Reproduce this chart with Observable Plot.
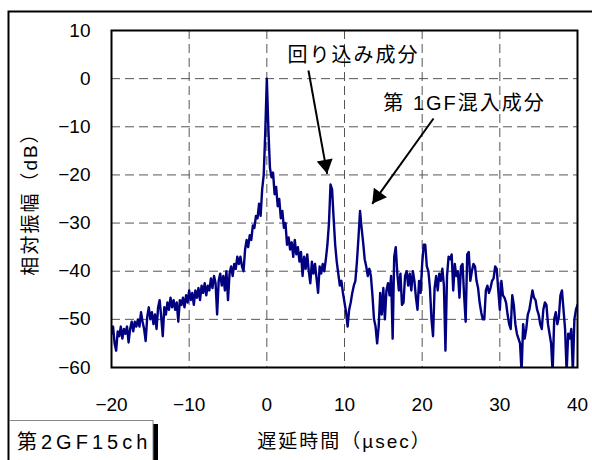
<!DOCTYPE html>
<html><head><meta charset="utf-8">
<script src="https://cdn.jsdelivr.net/npm/d3@7"></script>
<script src="https://cdn.jsdelivr.net/npm/@observablehq/plot@0.6"></script>
<style>
html,body{margin:0;padding:0;background:#fff;}
g[aria-description="annot"] text{letter-spacing:2px;}
g[aria-description="axislabel"] text{letter-spacing:2px;}
</style></head><body><div id="chart"></div>
<script>
// sampling of the delay axis (µsec)
const delayStart = -20, delayStep = 0.2;
// relative amplitude (dB), one value per 0.2 µsec from -20 to 40
const amplitudeDb = [
  -53, -51.5, -55, -56.5, -52.5,
  -53.5, -51.5, -54, -52, -53,
  -51.5, -54.8, -52, -50.5, -52.5,
  -50.5, -51.5, -50, -51.5, -48.5,
  -50.5, -52, -54.5, -49.5, -47.5,
  -50, -48.5, -51, -49, -52,
  -47.5, -46, -49.5, -53.5, -47.5,
  -49, -46.5, -48, -45.5, -47.5,
  -46, -48, -46.5, -50.5, -46,
  -47, -45.5, -47.5, -45, -46.5,
  -44, -46, -44.5, -47, -44,
  -45.5, -43.5, -46, -43, -44.5,
  -42.5, -45, -43, -44, -41.5,
  -43.5, -41, -42.5, -49, -42,
  -40.5, -43, -41, -44, -40,
  -46, -40.5, -39, -41, -38.5,
  -39.5, -37, -38.5, -37, -39,
  -40, -35.5, -33.5, -35, -32.5,
  -33.5, -30.5, -31, -28.5, -29,
  -26, -28.5, -23, -20, -11,
  0, -10.5, -18.5, -20.5, -19.5,
  -24, -22.5, -26.5, -25, -29,
  -27.5, -31, -30, -34.5, -33,
  -35.5, -34, -37, -33.5, -36.5,
  -35, -38, -36, -41, -37,
  -39.5, -36.5, -40, -42.5, -38,
  -40.5, -38.5, -41.5, -44.5, -39,
  -40.5, -38.5, -40, -37.5, -34.5,
  -30, -22, -23, -29, -34.5,
  -38, -40.5, -43, -42, -44.5,
  -46.5, -48.5, -51.5, -48, -46.5,
  -44.5, -43, -42, -38, -33,
  -27.5, -31, -34, -37.5, -39,
  -41, -39.5, -41, -45, -50,
  -51.5, -55, -51.5, -44.5, -49,
  -43.5, -50, -44, -42.5, -45,
  -41, -54, -37, -35, -40.5,
  -44, -40.5, -47, -46.5, -41,
  -40, -43, -40.5, -44, -40,
  -42, -45.5, -48, -42, -44.5,
  -38.5, -34.5, -34.5, -39, -40,
  -43.5, -50, -53.5, -43.5, -41,
  -44, -40.5, -42, -39.5, -43,
  -56.5, -41, -37, -37.5, -36.5,
  -44, -38.5, -41, -40, -45.5,
  -39, -38.5, -45, -50.5, -36.5,
  -36, -42, -40, -38.5, -39,
  -42, -43.5, -46.5, -48.5, -50,
  -50, -44, -43, -44.5, -43.5,
  -42, -41.5, -39, -39.5, -44,
  -48, -42, -45, -45.5, -46.5,
  -49, -51, -52, -45, -47,
  -51, -53, -54, -55, -61,
  -51, -54, -52, -49, -48,
  -46, -44, -45.5, -46, -48,
  -49, -51, -52, -48, -46.5,
  -47, -51, -53, -55, -61,
  -50, -48.5, -51, -49.5, -45,
  -44, -48, -52, -61, -53,
  -54, -52, -61, -50, -48,
  -47
];
const xTicks = [-20, -10, 0, 10, 20, 30, 40];
const yTicks = [-60, -50, -40, -30, -20, -10, 0, 10];
const xGrid = [-10, 0, 10, 20, 30];
const yGrid = [-50, -40, -30, -20, -10, 0];
const annotationLabels = ["回り込み成分", "第 1GF混入成分"];
const annotationX = [2.65, 15.0];
const annotationY = [4.8, -5.15];
const arrowFromX = [5.36, 21.46];
const arrowFromY = [1.69, -8.28];
const arrowToX = [7.77, 13.57];
const arrowToY = [-19.77, -26.0];
const xLabel = "遅延時間（µsec）";
const yLabel = "相対振幅（dB）";
const panelLabel = "第2GF15ch";

const W = 592, H = 460, mt = 30, mr = 15, mb = 93, ml = 111;
const xDomain = [-20, 40], yDomain = [-60, 10];

const series = amplitudeDb.map((v, i) => ({delay: delayStart + i * delayStep, amp: v}));
const notes = annotationLabels.map((t, i) => ({t, x: annotationX[i], y: annotationY[i]}));
const arrows = arrowFromX.map((_, i) => ({x1: arrowFromX[i], y1: arrowFromY[i], x2: arrowToX[i], y2: arrowToY[i]}));

const kx = (W - ml - mr) / (xDomain[1] - xDomain[0]);
const ky = (H - mt - mb) / (yDomain[1] - yDomain[0]);
const headR = 6;
const headMarks = arrows.map(a => {
  const sx = (a.x2 - a.x1) * kx, sy = -(a.y2 - a.y1) * ky;
  const len = Math.hypot(sx, sy), ux = sx / len, uy = sy / len;
  const rot = Math.atan2(sx, -sy) * 180 / Math.PI;
  const tipOff = 2 * Math.sqrt(headR * headR * Math.PI / (3 * Math.sqrt(3)));
  return Plot.dot([a], {x: "x2", y: "y2", symbol: "triangle", r: headR, fill: "black", stroke: "none",
    rotate: rot, dx: -ux * tipOff, dy: -uy * tipOff});
});

const font = "'Liberation Sans','Noto Sans CJK JP',sans-serif";
const chart = Plot.plot({
  width: W, height: H,
  marginTop: mt, marginRight: mr, marginBottom: mb, marginLeft: ml,
  style: {fontFamily: font, fontSize: "19px", color: "black", background: "white", overflow: "visible"},
  x: {domain: xDomain, ticks: xTicks, tickSize: 0, tickPadding: 30, label: null},
  y: {domain: yDomain, ticks: yTicks, tickSize: 0, tickPadding: 21, label: null},
  marks: [
    Plot.ruleX(xGrid, {stroke: "#555", strokeWidth: 1, strokeDasharray: "9,5"}),
    Plot.ruleY(yGrid, {stroke: "#555", strokeWidth: 1, strokeDasharray: "9,5"}),
    Plot.line(series, {x: "delay", y: "amp", stroke: "#000080", strokeWidth: 2.4, clip: true}),
    Plot.frame({stroke: "black", strokeWidth: 2}),
    Plot.link(arrows, {x1: "x1", y1: "y1", x2: "x2", y2: "y2", stroke: "black", strokeWidth: 2}),
    ...headMarks,
    Plot.text(notes, {x: "x", y: "y", text: "t", textAnchor: "start", fontSize: 20, fill: "black", ariaDescription: "annot"}),
    Plot.text([xLabel], {frameAnchor: "bottom", dy: 74, text: d => d, textAnchor: "middle", lineAnchor: "middle", fontSize: 19, fill: "black", ariaDescription: "axislabel"}),
    Plot.text([yLabel], {frameAnchor: "left", dx: -81, rotate: -90, text: d => d, textAnchor: "middle", lineAnchor: "middle", fontSize: 19, fill: "black", ariaDescription: "axislabel"})
  ]
});
document.getElementById("chart").appendChild(chart);

// decorative outer border and panel label box
const svg = d3.select(chart);
svg.append("path").attr("d", "M8.5,470V11.5H600").attr("fill", "none").attr("stroke", "black").attr("stroke-width", 2);
svg.append("rect").attr("x", 153).attr("y", 424).attr("width", 5).attr("height", 40).attr("fill", "black");
svg.append("rect").attr("x", 9.5).attr("y", 420.5).attr("width", 143.5).attr("height", 45).attr("fill", "white").attr("stroke", "#888").attr("stroke-width", 1);
svg.append("text").attr("x", 17).attr("y", 449).attr("font-size", 20).attr("font-family", font)
  .attr("text-anchor", "start").attr("letter-spacing", 4).attr("fill", "black").text(panelLabel);
</script></body></html>
